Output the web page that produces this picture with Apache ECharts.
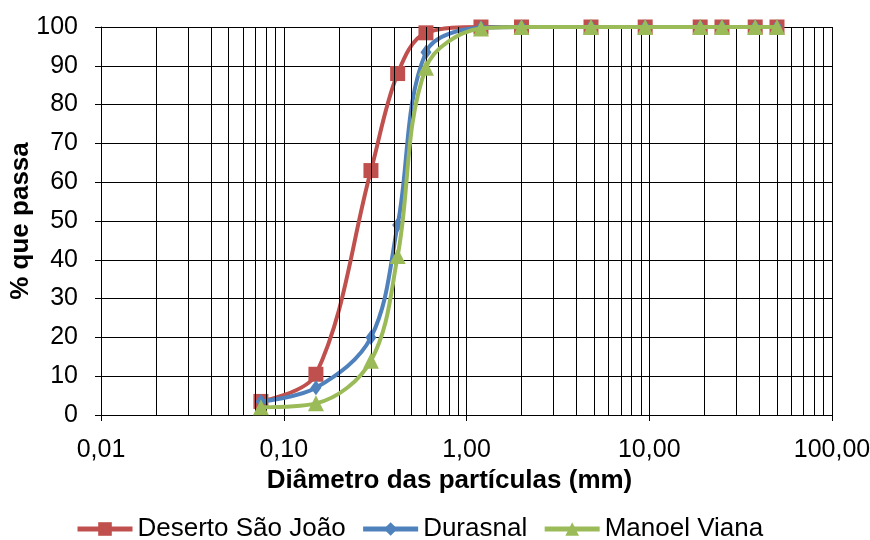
<!DOCTYPE html>
<html lang="pt">
<head>
<meta charset="utf-8">
<title>Curva granulométrica</title>
<script src="https://cdn.jsdelivr.net/npm/echarts@6/dist/echarts.min.js"></script>
<style>
  html, body { margin: 0; padding: 0; background: #fff; }
  #main { width: 870px; height: 540px; }
</style>
</head>
<body>
<div id="main"></div>
<script>
// aberturas das peneiras (mm)
var diametros = [0.075, 0.15, 0.3, 0.42, 0.6, 1.2, 2.0, 4.8, 9.5, 19, 25, 38, 50];
// % que passa
var deserto  = [3.5, 10.5, 63, 88, 98.5, 100, 100, 100, 100, 100, 100, 100, 100];
var durasnal = [3.5, 7, 20, 49, 93.5, 99.8, 100, 100, 100, 100, 100, 100, 100];
var manoel   = [2, 3, 14, 41, 89.5, 99.6, 100, 100, 100, 100, 100, 100, 100];
var nomes = ['Deserto São João', 'Durasnal', 'Manoel Viana'];

function pares(ys) {
  var out = [];
  for (var i = 0; i < diametros.length; i++) out.push([diametros[i], ys[i]]);
  return out;
}

// linhas secundárias da grade logarítmica (2..9 em cada década)
var grade = [];
[0.01, 0.1, 1, 10].forEach(function (d) {
  for (var k = 2; k <= 9; k++) grade.push({ xAxis: +(d * k).toPrecision(3) });
});

var fonte = 'Arial, "Liberation Sans", sans-serif';
var chart = echarts.init(document.getElementById('main'));

chart.setOption({
  animation: false,
  textStyle: { fontFamily: fonte },
  grid: {
    left: 101, right: 38, top: 27, bottom: 125,
    containLabel: false,
    outerBoundsMode: 'none'
  },
  legend: {
    data: nomes,
    top: 516,
    left: 75,
    padding: 0,
    itemWidth: 55,
    itemHeight: 17,
    itemGap: 15,
    lineStyle: { width: 5 },
    textStyle: { fontSize: 26, color: '#000', fontFamily: fonte }
  },
  xAxis: {
    type: 'log',
    logBase: 10,
    min: 0.01,
    max: 100,
    name: 'Diâmetro das partículas (mm)',
    nameLocation: 'middle',
    nameGap: 53,
    nameMoveOverlap: false,
    nameTextStyle: { fontSize: 26, fontWeight: 'bold', color: '#000', padding: [0, 34, 0, 0] },
    axisLine: { lineStyle: { color: '#000', width: 1 } },
    axisTick: { show: true, length: 6, lineStyle: { color: '#000' } },
    axisLabel: {
      fontSize: 25, color: '#000', margin: 23,
      formatter: function (v) { return v.toFixed(2).replace('.', ','); }
    },
    splitLine: { show: true, lineStyle: { color: '#000', width: 1 } }
  },
  yAxis: {
    type: 'value',
    min: 0,
    max: 100,
    interval: 10,
    name: '% que passa',
    nameLocation: 'middle',
    nameRotate: 90,
    nameGap: 67,
    nameMoveOverlap: false,
    nameTextStyle: { fontSize: 26, fontWeight: 'bold', color: '#000' },
    axisLine: { show: true, lineStyle: { color: '#000', width: 1 } },
    axisTick: { show: true, length: 6, lineStyle: { color: '#000' } },
    axisLabel: { fontSize: 25, color: '#000', margin: 23 },
    splitLine: { show: true, lineStyle: { color: '#000', width: 1 } }
  },
  series: [
    {
      name: 'grade',
      type: 'line',
      data: [],
      z: 1,
      silent: true,
      markLine: {
        silent: true,
        symbol: 'none',
        label: { show: false },
        lineStyle: { color: '#000', type: 'solid', width: 1 },
        data: grade
      }
    },
    {
      name: nomes[0],
      type: 'line',
      data: pares(deserto),
      smooth: 0.35,
      z: 3,
      color: '#C0504D',
      lineStyle: { width: 4, color: '#C0504D' },
      symbol: 'rect',
      symbolSize: 15,
      itemStyle: { color: '#C0504D' }
    },
    {
      name: nomes[1],
      type: 'line',
      data: pares(durasnal),
      smooth: 0.35,
      z: 4,
      color: '#4F81BD',
      lineStyle: { width: 4, color: '#4F81BD' },
      symbol: 'diamond',
      symbolSize: [11, 15],
      itemStyle: { color: '#4F81BD' }
    },
    {
      name: nomes[2],
      type: 'line',
      data: pares(manoel),
      smooth: 0.35,
      z: 5,
      color: '#9BBB59',
      lineStyle: { width: 4, color: '#9BBB59' },
      symbol: 'triangle',
      symbolSize: 16,
      itemStyle: { color: '#9BBB59' }
    }
  ]
});
</script>
</body>
</html>
